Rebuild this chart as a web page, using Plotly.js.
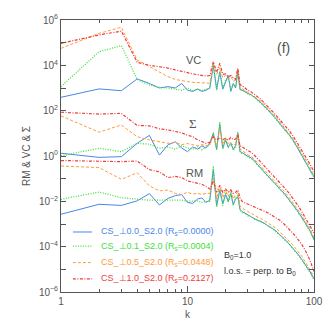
<!DOCTYPE html>
<html><head><meta charset="utf-8">
<script src="https://cdn.plot.ly/plotly-3.0.1.min.js"></script>
<style>html,body{margin:0;padding:0;background:#fff}#chart{width:332px;height:332px}</style>
</head><body><div id="chart"></div><script>
// wavenumber k
const k = [1,2,3,4,5,6,7,8,9,10,11,12,13,14,15,16,17,18,19,20,21,22,23,24,25,26,27,28,30,32,34,36,38,40,43,46,50,54,58,63,68,74,80,86,93,100];

// values, stored as log10 of the spectrum value
const vcBlueLog   = [2.59,2.96,2.88,3.4,3.2,3.0,3.06,3.0,3.2,2.9,2.85,2.95,2.85,2.9,3.0,4.0,2.95,3.7,2.95,3.3,3.55,2.85,3.2,3.0,3.7,2.95,
  2.92,2.86,2.76,2.7,2.58,2.47,2.36,2.22,2.06,1.86,1.66,1.4,1.22,0.97,0.72,0.36,0.08,-0.24,-0.55,-0.92];
const vcGreenLog  = [3.06,4.6,4.87,3.38,3.13,3.03,3.0,2.95,2.9,3.0,2.88,2.95,2.9,2.95,3.0,4.05,2.9,3.75,3.0,3.35,3.5,2.9,3.15,3.05,3.75,2.9,
  2.88,2.88,2.74,2.66,2.6,2.44,2.34,2.2,2.02,1.88,1.62,1.42,1.18,0.95,0.68,0.38,0.04,-0.26,-0.6,-0.95];
const vcOrangeLog = [4.75,5.41,5.68,4.24,3.95,3.72,3.5,3.38,3.31,3.28,3.25,3.25,3.23,3.22,3.21,4.1,3.6,3.9,3.45,3.55,3.4,3.5,3.3,3.35,3.85,3.05,
  2.98,2.92,2.82,2.74,2.64,2.52,2.42,2.28,2.12,1.94,1.72,1.48,1.28,1.04,0.78,0.44,0.14,-0.16,-0.48,-0.85];
const vcRedLog    = [4.97,5.34,5.51,4.13,4.0,3.94,3.88,3.8,3.75,3.68,3.62,3.58,3.55,3.53,3.55,4.16,3.7,4.09,3.6,3.62,3.5,3.55,3.45,3.38,3.87,3.15,
  3.1,3.02,2.9,2.82,2.72,2.6,2.5,2.36,2.2,2.02,1.8,1.56,1.38,1.15,0.9,0.56,0.26,-0.05,-0.36,-0.68];

const sgBlueLog   = [0.12,-0.06,-0.03,0.56,0.91,0.04,0.49,0.63,0.35,0.19,0.4,0.3,0.45,0.35,0.56,1.0,0.3,1.4,0.35,0.7,0.4,0.55,0.3,0.45,1.0,0.2,
  0.15,0.08,-0.02,-0.08,-0.25,-0.38,-0.55,-0.66,-0.9,-1.05,-1.25,-1.48,-1.64,-1.9,-2.12,-2.42,-2.7,-2.98,-3.3,-3.68];
const sgGreenLog  = [0.01,0.34,0.19,0.56,0.52,0.34,0.4,0.3,0.45,0.35,0.3,0.4,0.27,0.4,0.5,1.05,0.25,1.5,0.3,0.75,0.35,0.6,0.25,0.4,1.05,0.15,
  0.1,0.12,-0.05,-0.12,-0.22,-0.42,-0.52,-0.7,-0.88,-1.08,-1.28,-1.46,-1.68,-1.92,-2.15,-2.45,-2.72,-3.0,-3.34,-3.72];
const sgOrangeLog = [1.77,1.05,1.37,0.85,0.71,0.63,0.56,0.6,0.5,0.55,0.5,0.45,0.5,0.45,0.5,0.9,0.45,1.2,0.5,0.8,0.55,0.6,0.45,0.55,0.95,0.3,
  0.25,0.18,0.05,-0.02,-0.15,-0.3,-0.45,-0.58,-0.8,-0.96,-1.16,-1.38,-1.56,-1.8,-2.04,-2.34,-2.6,-2.9,-3.2,-3.6];
const sgRedLog    = [1.93,1.85,1.88,1.35,1.33,1.2,1.15,1.07,1.02,0.92,0.85,0.72,0.63,0.56,0.6,0.85,0.7,0.8,0.72,0.78,0.7,0.82,0.72,0.75,0.95,0.45,
  0.4,0.35,0.25,0.15,0.02,-0.12,-0.28,-0.4,-0.6,-0.78,-0.98,-1.2,-1.38,-1.62,-1.85,-2.15,-2.45,-2.75,-3.05,-3.4];

const rmBlueLog   = [-2.57,-2.13,-2.18,-1.98,-1.66,-2.16,-1.87,-1.75,-1.7,-2.05,-2.09,-1.9,-1.85,-2.05,-1.95,-0.6,-2.2,-1.5,-2.1,-1.7,-2.0,-1.65,-2.15,-1.9,-1.8,-2.35,
  -2.45,-2.5,-2.6,-2.7,-2.76,-2.85,-2.88,-2.96,-3.05,-3.18,-3.3,-3.5,-3.64,-3.86,-4.05,-4.3,-4.56,-4.8,-5.1,-5.42];
const rmGreenLog  = [-1.91,-1.59,-1.84,-1.91,-1.95,-1.95,-1.95,-1.98,-1.95,-2.0,-2.0,-1.98,-2.05,-2.0,-2.0,-0.45,-2.25,-1.45,-2.2,-1.6,-2.05,-1.6,-2.2,-1.85,-1.7,-2.4,
  -2.5,-2.48,-2.64,-2.68,-2.8,-2.82,-2.92,-2.95,-3.08,-3.16,-3.34,-3.48,-3.68,-3.85,-4.08,-4.32,-4.58,-4.84,-5.14,-5.45];
const rmOrangeLog = [-0.44,-0.51,-1.03,-0.74,-1.32,-1.54,-1.5,-1.65,-1.7,-1.6,-1.68,-1.65,-1.7,-1.65,-1.65,-1.0,-1.9,-1.3,-1.85,-1.5,-1.8,-1.45,-1.9,-1.7,-1.6,-2.2,
  -2.3,-2.35,-2.48,-2.55,-2.64,-2.7,-2.76,-2.84,-2.92,-3.05,-3.18,-3.36,-3.52,-3.72,-3.92,-4.18,-4.42,-4.7,-5.0,-5.32];
const rmRedLog    = [-0.2,-0.25,-0.25,-0.22,-0.6,-0.7,-0.95,-0.9,-0.95,-1.1,-1.15,-1.2,-1.25,-1.35,-1.45,-1.1,-1.6,-1.3,-1.6,-1.45,-1.6,-1.5,-1.65,-1.6,-1.5,-1.85,
  -2.0,-2.05,-2.12,-2.2,-2.27,-2.33,-2.38,-2.42,-2.5,-2.6,-2.72,-2.85,-3.0,-3.2,-3.4,-3.65,-3.9,-4.2,-4.6,-5.1];

const seriesNames = ['CS_⊥0.0_S2.0','CS_⊥0.1_S2.0','CS_⊥0.5_S2.0','CS_⊥1.0_S2.0'];
const rsValues = ['0.0000','0.0004','0.0448','0.2127'];
const groupLabels = ['VC','Σ','RM'];
const yTickLabels = ['10<sup>−6</sup>','','10<sup>−4</sup>','','10<sup>−2</sup>','','10<sup>0</sup>','','10<sup>2</sup>','','10<sup>4</sup>','','10<sup>6</sup>'];
const xTickLabels = ['1','10','100'];

const colors = ['#4a86e8','#3ee03e','#ff9a3c','#f03c3c'];
const dashes = ['solid','1px,1.5px','3px,2px','3px,1.5px,1px,1.5px'];
const widths = [1,1.3,1,1.2];

const groups = [
  [vcBlueLog, vcGreenLog, vcOrangeLog, vcRedLog],
  [sgBlueLog, sgGreenLog, sgOrangeLog, sgRedLog],
  [rmBlueLog, rmGreenLog, rmOrangeLog, rmRedLog]
];

const traces = [];
groups.forEach(g => {
  g.forEach((arr, i) => {
    traces.push({
      x: k, y: arr.map(v => Math.pow(10, v)), type: 'scatter', mode: 'lines',
      line: {color: colors[i], width: widths[i], dash: dashes[i]},
      showlegend: false, hoverinfo: 'skip'
    });
  });
});

const font = 'Liberation Sans, Arial, sans-serif';
const gray = '#555';

const shapes = [];
const annotations = [];
const legendY = [0.2206, 0.169, 0.108, 0.048];
seriesNames.forEach((nm, i) => {
  shapes.push({type:'line', xref:'paper', yref:'paper', x0:0.047, x1:0.123, y0:legendY[i], y1:legendY[i],
    line:{color:colors[i], width:widths[i], dash:dashes[i]}});
  annotations.push({xref:'paper', yref:'paper', x:0.152, y:legendY[i], xanchor:'left', yanchor:'middle', showarrow:false,
    text: nm + ' (R<sub>s</sub>=' + rsValues[i] + ')', font:{family:font, size:9, color:colors[i]}});
});
annotations.push({xref:'paper', yref:'paper', x:0.522, y:0.882, showarrow:false, text:groupLabels[0], font:{family:font, size:11, color:gray}});
annotations.push({xref:'paper', yref:'paper', x:0.522, y:0.621, showarrow:false, text:groupLabels[1], font:{family:'Liberation Serif, serif', size:13, color:gray}});
annotations.push({xref:'paper', yref:'paper', x:0.526, y:0.4375, showarrow:false, text:groupLabels[2], font:{family:font, size:11, color:gray}});
annotations.push({xref:'paper', yref:'paper', x:0.913, y:0.934, showarrow:false, text:'(f)', font:{family:font, size:14, color:gray}});
annotations.push({xref:'paper', yref:'paper', x:0.636, y:0.107, xanchor:'left', showarrow:false, text:'B<sub>0</sub>=1.0', font:{family:font, size:9, color:'#333'}});
annotations.push({xref:'paper', yref:'paper', x:0.636, y:0.048, xanchor:'left', showarrow:false, text:'l.o.s. = perp. to B<sub>0</sub>', font:{family:font, size:9, color:'#333'}});

const layout = {
  width: 332, height: 332,
  margin: {l:61, r:18, t:20, b:40, pad:0},
  paper_bgcolor:'#fff', plot_bgcolor:'#fff',
  showlegend:false,
  font:{family:font, size:10, color:gray},
  xaxis: {
    type:'log', range:[0,2], showgrid:false, zeroline:false,
    showline:true, linecolor:gray, linewidth:1, mirror:'allticks',
    ticks:'inside', ticklen:6, tickcolor:gray,
    tickmode:'array', tickvals:[1,10,100], ticktext:xTickLabels,
    tickfont:{family:font, size:10, color:gray},
    minor:{tickmode:'array', tickvals:[2,3,4,5,6,7,8,9,20,30,40,50,60,70,80,90], ticks:'inside', ticklen:3, tickcolor:gray, showgrid:false},
    title:{text:'k', font:{family:font, size:10, color:gray}, standoff:4}
  },
  yaxis: {
    type:'log', range:[-6,6], showgrid:false, zeroline:false,
    showline:true, linecolor:gray, linewidth:1, mirror:'allticks',
    ticks:'inside', ticklen:5, tickcolor:gray,
    tickmode:'array', tickvals:[1e-6,1e-5,1e-4,1e-3,1e-2,1e-1,1,10,100,1e3,1e4,1e5,1e6], ticktext:yTickLabels,
    tickfont:{family:font, size:10, color:gray},
    title:{text:'RM & VC & Σ', font:{family:font, size:10, color:gray}, standoff:6}
  },
  shapes: shapes,
  annotations: annotations
};

Plotly.newPlot('chart', traces, layout, {staticPlot:true, displayModeBar:false});
</script></body></html>
